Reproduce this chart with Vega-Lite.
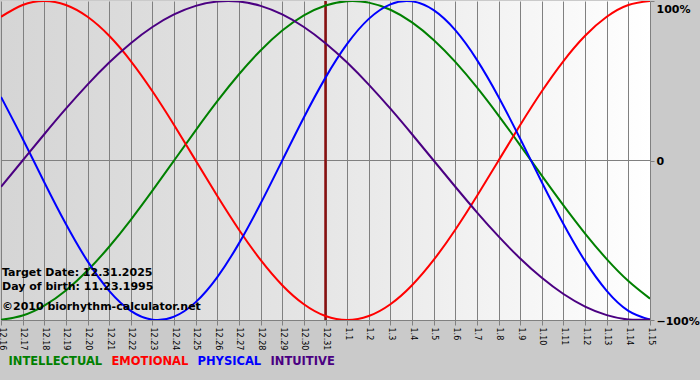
{
  "$schema": "https://vega.github.io/schema/vega-lite/v6.json",
  "autosize": {"type": "none"},
  "width": 649,
  "height": 319,
  "padding": {"left": 1, "top": 1, "right": 50, "bottom": 60},
  "background": "#cacaca",
  "view": {
    "stroke": null,
    "fill": {"gradient": "linear", "x1": 0, "y1": 0, "x2": 1, "y2": 0,
      "stops": [{"offset": 0, "color": "#d5d5d5"}, {"offset": 0.45, "color": "#e4e4e4"}, {"offset": 1, "color": "#ffffff"}]}
  },
  "config": {"font": "DejaVu Sans"},
  "encoding": {
    "x": {
      "field": "d", "type": "quantitative",
      "scale": {"domain": [0, 30], "nice": false, "zero": false},
      "axis": {
        "title": null,
        "values": [0,1,2,3,4,5,6,7,8,9,10,11,12,13,14,15,16,17,18,19,20,21,22,23,24,25,26,27,28,29,30],
        "tickCount": 31,
        "labelExpr": "datum.value < 16 ? '12.' + (datum.value + 16) : '1.' + (datum.value - 15)",
        "labelAngle": 90, "labelAlign": "left", "labelBaseline": "middle",
        "labelFont": "DejaVu Sans", "labelFontSize": 8, "labelColor": "#000000",
        "labelPadding": 2, "labelFlush": false, "labelOverlap": false, "labelBound": false,
        "grid": true, "gridColor": "#808080", "gridOpacity": 1, "gridWidth": 1,
        "tickColor": "#808080", "tickSize": 5, "tickWidth": 1,
        "domainColor": "#808080", "domainWidth": 1
      }
    },
    "y": {
      "field": "value", "type": "quantitative",
      "scale": {"domain": [-1, 1], "nice": false, "zero": false},
      "axis": {
        "title": null, "orient": "right", "values": [-1, 0, 1],
        "labelExpr": "datum.value == 0 ? '0' : format(datum.value, '.0%')",
        "labelFont": "DejaVu Sans", "labelFontWeight": "bold", "labelFontSize": 11, "labelColor": "#000000",
        "labelPadding": 2, "labelFlush": false, "labelBound": false,
        "labelBaseline": {"expr": "datum.value == 1 ? 'top' : 'middle'"},
        "labelOffset": {"expr": "datum.value == 1 ? 2 : 1"},
        "grid": false, "domain": false,
        "tickColor": "#808080", "tickSize": 4
      }
    }
  },
  "layer": [
    {
      "data": {"values": [{"value": 0}]},
      "mark": {"type": "rule", "color": "#808080", "strokeWidth": 1},
      "encoding": {"x": null}
    },
    {
      "data": {"values": [{"d": 15}]},
      "mark": {"type": "rule", "color": "#8a1010", "strokeWidth": 2.5},
      "encoding": {"y": null}
    },
    {
      "data": {"values": [
        {"d":0,"INTELLECTUAL":-0.99887,"EMOTIONAL":0.90097,"PHYSICAL":0.3984,"INTUITIVE":-0.16459},
        {"d":1,"INTELLECTUAL":-0.97181,"EMOTIONAL":0.97493,"PHYSICAL":0.1362,"INTUITIVE":0},
        {"d":2,"INTELLECTUAL":-0.90963,"EMOTIONAL":1,"PHYSICAL":-0.1362,"INTUITIVE":0.16459},
        {"d":3,"INTELLECTUAL":-0.81457,"EMOTIONAL":0.97493,"PHYSICAL":-0.3984,"INTUITIVE":0.3247},
        {"d":4,"INTELLECTUAL":-0.69007,"EMOTIONAL":0.90097,"PHYSICAL":-0.6311,"INTUITIVE":0.47595},
        {"d":5,"INTELLECTUAL":-0.54064,"EMOTIONAL":0.78183,"PHYSICAL":-0.817,"INTUITIVE":0.61421},
        {"d":6,"INTELLECTUAL":-0.37166,"EMOTIONAL":0.62349,"PHYSICAL":-0.9423,"INTUITIVE":0.73572},
        {"d":7,"INTELLECTUAL":-0.18925,"EMOTIONAL":0.43388,"PHYSICAL":-0.9977,"INTUITIVE":0.83717},
        {"d":8,"INTELLECTUAL":0,"EMOTIONAL":0.22252,"PHYSICAL":-0.9791,"INTUITIVE":0.91577},
        {"d":9,"INTELLECTUAL":0.18925,"EMOTIONAL":0,"PHYSICAL":-0.8879,"INTUITIVE":0.9694},
        {"d":10,"INTELLECTUAL":0.37166,"EMOTIONAL":-0.22252,"PHYSICAL":-0.7308,"INTUITIVE":0.99658},
        {"d":11,"INTELLECTUAL":0.54064,"EMOTIONAL":-0.43388,"PHYSICAL":-0.5196,"INTUITIVE":0.99658},
        {"d":12,"INTELLECTUAL":0.69007,"EMOTIONAL":-0.62349,"PHYSICAL":-0.2698,"INTUITIVE":0.9694},
        {"d":13,"INTELLECTUAL":0.81457,"EMOTIONAL":-0.78183,"PHYSICAL":0,"INTUITIVE":0.91577},
        {"d":14,"INTELLECTUAL":0.90963,"EMOTIONAL":-0.90097,"PHYSICAL":0.2698,"INTUITIVE":0.83717},
        {"d":15,"INTELLECTUAL":0.97181,"EMOTIONAL":-0.97493,"PHYSICAL":0.5196,"INTUITIVE":0.73572},
        {"d":16,"INTELLECTUAL":0.99887,"EMOTIONAL":-1,"PHYSICAL":0.7308,"INTUITIVE":0.61421},
        {"d":17,"INTELLECTUAL":0.98982,"EMOTIONAL":-0.97493,"PHYSICAL":0.8879,"INTUITIVE":0.47595},
        {"d":18,"INTELLECTUAL":0.945,"EMOTIONAL":-0.90097,"PHYSICAL":0.9791,"INTUITIVE":0.3247},
        {"d":19,"INTELLECTUAL":0.86603,"EMOTIONAL":-0.78183,"PHYSICAL":0.9977,"INTUITIVE":0.16459},
        {"d":20,"INTELLECTUAL":0.75575,"EMOTIONAL":-0.62349,"PHYSICAL":0.9423,"INTUITIVE":0},
        {"d":21,"INTELLECTUAL":0.61816,"EMOTIONAL":-0.43388,"PHYSICAL":0.817,"INTUITIVE":-0.16459},
        {"d":22,"INTELLECTUAL":0.45822,"EMOTIONAL":-0.22252,"PHYSICAL":0.6311,"INTUITIVE":-0.3247},
        {"d":23,"INTELLECTUAL":0.28173,"EMOTIONAL":0,"PHYSICAL":0.3984,"INTUITIVE":-0.47595},
        {"d":24,"INTELLECTUAL":0.09506,"EMOTIONAL":0.22252,"PHYSICAL":0.1362,"INTUITIVE":-0.61421},
        {"d":25,"INTELLECTUAL":-0.09506,"EMOTIONAL":0.43388,"PHYSICAL":-0.1362,"INTUITIVE":-0.73572},
        {"d":26,"INTELLECTUAL":-0.28173,"EMOTIONAL":0.62349,"PHYSICAL":-0.3984,"INTUITIVE":-0.83717},
        {"d":27,"INTELLECTUAL":-0.45822,"EMOTIONAL":0.78183,"PHYSICAL":-0.6311,"INTUITIVE":-0.91577},
        {"d":28,"INTELLECTUAL":-0.61816,"EMOTIONAL":0.90097,"PHYSICAL":-0.817,"INTUITIVE":-0.9694},
        {"d":29,"INTELLECTUAL":-0.75575,"EMOTIONAL":0.97493,"PHYSICAL":-0.9423,"INTUITIVE":-0.99658},
        {"d":30,"INTELLECTUAL":-0.86603,"EMOTIONAL":1,"PHYSICAL":-0.9977,"INTUITIVE":-0.99658}
      ]},
      "transform": [{"fold": ["INTELLECTUAL", "EMOTIONAL", "PHYSICAL", "INTUITIVE"], "as": ["series", "value"]}],
      "mark": {"type": "line", "interpolate": "natural", "strokeWidth": 2, "clip": true},
      "encoding": {
        "color": {
          "field": "series", "type": "nominal",
          "scale": {"domain": ["INTELLECTUAL", "EMOTIONAL", "PHYSICAL", "INTUITIVE"], "range": ["#008000", "#ff0000", "#0000ff", "#4b0082"]},
          "legend": {
            "title": null, "orient": "none", "legendX": 7, "legendY": 355, "direction": "horizontal",
            "symbolSize": 0, "symbolOpacity": 0, "symbolStrokeWidth": 0, "labelOffset": -11, "columnPadding": 8,
            "labelFont": "DejaVu Sans", "labelFontWeight": "bold", "labelFontSize": 11.5,
            "encode": {"labels": {"update": {"fill": {"signal": "scale('color', datum.value)"}}}}
          }
        }
      }
    },
    {
      "data": {"values": [
        {"d": 0, "value": -0.703, "t": "Target Date: 12.31.2025"},
        {"d": 0, "value": -0.791, "t": "Day of birth: 11.23.1995"},
        {"d": 0, "value": -0.918, "t": "©2010 biorhythm-calculator.net"}
      ]},
      "mark": {"type": "text", "align": "left", "baseline": "middle", "dx": 1, "font": "DejaVu Sans", "fontWeight": "bold", "fontSize": 11, "color": "#000000"},
      "encoding": {
        "text": {"field": "t", "type": "nominal"}
      }
    }
  ]
}
